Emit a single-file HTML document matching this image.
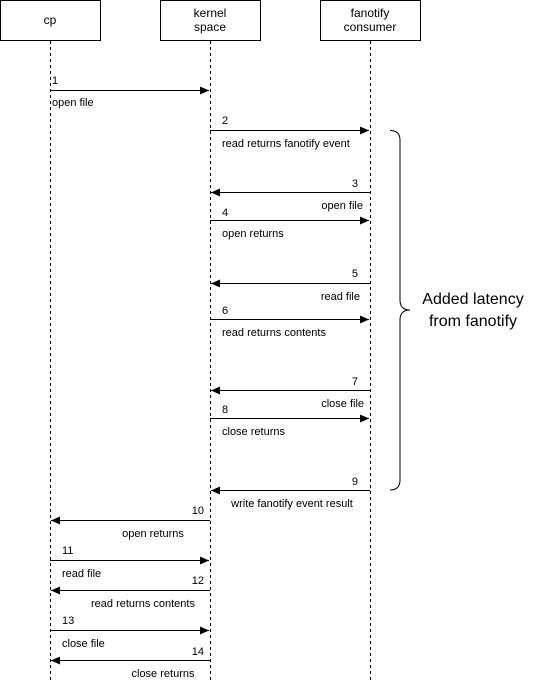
<!DOCTYPE html>
<html><head><meta charset="utf-8"><style>
html,body{margin:0;padding:0;background:#fff;}
svg{display:block;font-family:"Liberation Sans",Arial,sans-serif;}
</style></head><body>
<svg width="541" height="681" viewBox="0 0 541 681" xmlns="http://www.w3.org/2000/svg">
<defs>
<marker id="a" markerWidth="10" markerHeight="8" refX="9" refY="4" orient="auto" markerUnits="userSpaceOnUse">
<path d="M0,0 L9,4 L0,8 Z" fill="#000"/></marker>
</defs>
<g fill="#fff" stroke="#000" stroke-width="1">
<rect x="0.5" y="0.5" width="100" height="40"/>
<rect x="160.5" y="0.5" width="100" height="40"/>
<rect x="320.5" y="0.5" width="100" height="40"/>
</g>
<g stroke="#000" stroke-dasharray="3,3">
<line x1="50.5" y1="41" x2="50.5" y2="681"/>
<line x1="210.5" y1="41" x2="210.5" y2="681"/>
<line x1="370.5" y1="41" x2="370.5" y2="681"/>
</g>
<g font-size="12" text-anchor="middle">
<text x="50" y="24">cp</text>
<text x="210" y="17">kernel</text><text x="210" y="31">space</text>
<text x="370" y="17">fanotify</text><text x="370" y="31">consumer</text>
</g>
<g stroke="#000" stroke-width="1" marker-end="url(#a)">
<line x1="50" y1="90.5" x2="209" y2="90.5"/>
<line x1="210" y1="130.5" x2="369" y2="130.5"/>
<line x1="370" y1="192.5" x2="211" y2="192.5"/>
<line x1="210" y1="220.5" x2="369" y2="220.5"/>
<line x1="370" y1="283.5" x2="211" y2="283.5"/>
<line x1="210" y1="319.5" x2="369" y2="319.5"/>
<line x1="370" y1="390.5" x2="211" y2="390.5"/>
<line x1="210" y1="418.5" x2="369" y2="418.5"/>
<line x1="370" y1="490.5" x2="211" y2="490.5"/>
<line x1="210" y1="520.5" x2="51" y2="520.5"/>
<line x1="50" y1="560.5" x2="209" y2="560.5"/>
<line x1="210" y1="590.5" x2="51" y2="590.5"/>
<line x1="50" y1="630.5" x2="209" y2="630.5"/>
<line x1="210" y1="660.5" x2="51" y2="660.5"/>
</g>
<g font-size="11">
<text x="52" y="84">1</text><text x="52" y="106">open file</text>
<text x="222" y="124">2</text><text x="222" y="147">read returns fanotify event</text>
<text x="358" y="187" text-anchor="end">3</text><text x="363" y="209" text-anchor="end">open file</text>
<text x="222" y="216">4</text><text x="222" y="237">open returns</text>
<text x="358" y="277" text-anchor="end">5</text><text x="360" y="300" text-anchor="end">read file</text>
<text x="222" y="314">6</text><text x="222" y="336">read returns contents</text>
<text x="358" y="385" text-anchor="end">7</text><text x="364" y="407" text-anchor="end">close file</text>
<text x="222" y="413">8</text><text x="222" y="435">close returns</text>
<text x="358" y="485" text-anchor="end">9</text><text x="292" y="507" text-anchor="middle">write fanotify event result</text>
<text x="204" y="514" text-anchor="end">10</text><text x="153" y="537" text-anchor="middle">open returns</text>
<text x="62" y="554">11</text><text x="62" y="577">read file</text>
<text x="204" y="584" text-anchor="end">12</text><text x="143" y="607" text-anchor="middle">read returns contents</text>
<text x="62" y="624">13</text><text x="62" y="647">close file</text>
<text x="204" y="655" text-anchor="end">14</text><text x="163" y="677" text-anchor="middle">close returns</text>
</g>
<path d="M390,130.5 Q400,130.5 400,140 L400,300 Q400,310 410,310 Q400,310 400,320 L400,480 Q400,490 390,490" fill="none" stroke="#000" stroke-width="1"/>
<g font-size="16" text-anchor="middle">
<text x="473" y="304">Added latency</text>
<text x="473" y="326">from fanotify</text>
</g>
</svg>
</body></html>
